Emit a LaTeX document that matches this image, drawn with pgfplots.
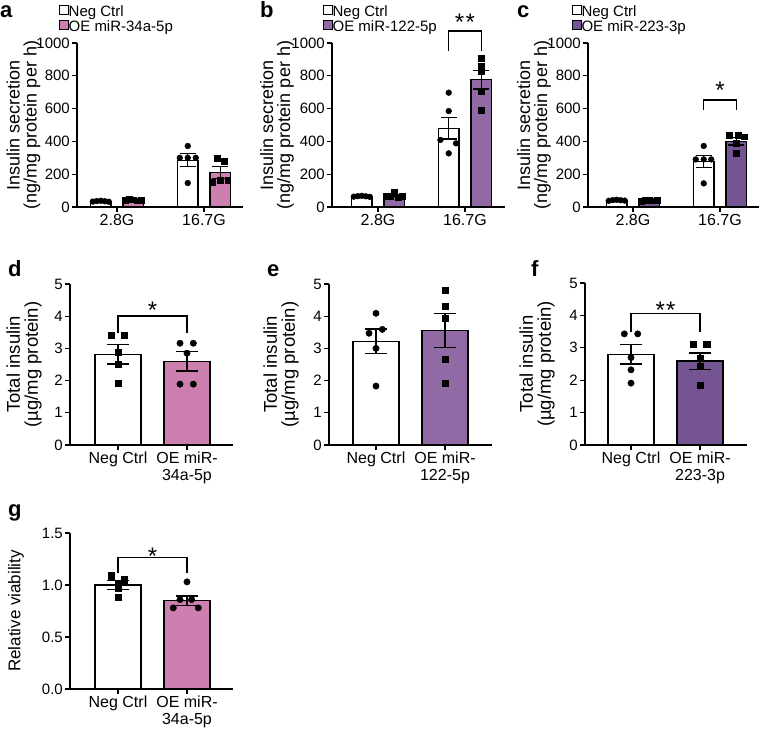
\documentclass[border=0pt]{standalone}
\usepackage{pgfplots}
\pgfplotsset{compat=1.18}
\usepackage{fontspec}
\setmainfont{Liberation Sans}
\definecolor{pinkc}{RGB}{205,128,175}
\definecolor{purpb}{RGB}{145,106,165}
\definecolor{purpc}{RGB}{117,84,148}
\newcommand{\fs}[2]{\fontsize{#1}{#2}\selectfont}
\tikzset{sigstar/.style={anchor=base, inner sep=0pt, font=\fs{24}{24}}}
\pgfplotsset{
  panel/.style={
    scale only axis, anchor=south west, clip=false,
    axis lines=left, axis line style={line width=1.3pt,-},
    tick align=outside, major tick length=5pt,
    tick style={line width=1.3pt, black},
    ymin=0, xtick={0,1},
    /pgf/number format/assume math mode=true,
    /pgf/number format/1000 sep={},
    yticklabel style={font=\fs{15}{17}, inner sep=2pt},
    xticklabel style={font=\fs{16}{17}, align=center, inner sep=2pt},
    ylabel style={font=\fs{18}{17}, align=center, anchor=center},
    legend style={draw=none, fill=none, inner sep=0pt, font=\fs{15}{15},
      legend cell align=left, row sep=0.5pt,
      nodes={inner sep=0pt, text height=9pt, text depth=3pt}, anchor=north west},
  },
  row1/.style={panel, ymax=1000, ytick={0,200,...,1000}, xticklabels={2.8G,16.7G}, height=164pt},
  row2/.style={panel, ymax=5, ytick={0,...,5}, height=161pt, width=163pt,
     ylabel style={font=\fs{18.5}{18}}},
  ebars/.style={error bars/y dir=both, error bars/y explicit,
     error bars/error bar style={line width=1.3pt,black},
     error bars/error mark options={rotate=90, line width=1.3pt, black, mark size=#1}},
  barA/.style={ybar, bar width=0.236, bar shift=0pt, draw=black, line width=1.2pt, forget plot, ebars=8pt},
  barB/.style={ybar, bar width=0.667, bar shift=0pt, draw=black, line width=1.2pt, forget plot, ebars=11pt},
  dotsA/.style={only marks, mark=*, mark size=2.9pt, black, forget plot},
  sqA/.style={only marks, mark=square*, mark size=2.9pt, black, forget plot},
  dotsB/.style={only marks, mark=*, mark size=3.2pt, black, forget plot},
  sqB/.style={only marks, mark=square*, mark size=3.1pt, black, forget plot},
  brk/.style={black, line width=1.3pt, forget plot, mark=none},
}
\newcommand{\legsq}[1]{\addlegendimage{legend image code/.code={\draw[draw=black, fill=#1, line width=0.9pt] (0pt,-0.5pt) rectangle (8.5pt,8pt);}}}
\begin{document}
\begin{tikzpicture}
\useasboundingbox (0pt,0pt) rectangle (760pt,733pt);
% ---------- a ----------
\begin{axis}[row1, at={(77pt,526pt)}, width=166pt, xmin=-0.460, xmax=1.448,
  ylabel={Insulin secretion\\(ng/mg protein per h)},
  ylabel style={at={(axis description cs:-0.322,0.5)}},
  legend style={at={(axis description cs:-0.108,1.232)}}]
\legsq{white}\addlegendentry{Neg Ctrl}
\legsq{pinkc}\addlegendentry{OE miR-34a-5p}
\addplot[barA, fill=white] coordinates {(-0.187,35) +- (0,3) (0.813,285) +- (0,40)};
\addplot[barA, fill=pinkc] coordinates {(0.187,42) +- (0,4) (1.187,210) +- (0,35)};
\addplot[dotsA] coordinates {(-0.279,33) (-0.233,36) (-0.187,38) (-0.141,35) (-0.095,32) (0.813,372) (0.721,300) (0.813,300) (0.905,300) (0.813,146)};
\addplot[sqA] coordinates {(0.095,40) (0.141,48) (0.187,45) (0.233,38) (0.279,40) (1.149,297) (1.236,280) (1.098,149) (1.184,165) (1.271,165)};
\end{axis}
% ---------- b ----------
\begin{axis}[row1, at={(332pt,526pt)}, width=173pt, xmin=-0.529, xmax=1.460,
  ylabel={Insulin secretion\\(ng/mg protein per h)},
  ylabel style={at={(axis description cs:-0.318,0.5)}},
  legend style={at={(axis description cs:-0.052,1.232)}}]
\legsq{white}\addlegendentry{Neg Ctrl}
\legsq{purpb}\addlegendentry{OE miR-122-5p}
\addplot[barA, fill=white] coordinates {(-0.187,65) +- (0,3) (0.813,481) +- (0,66)};
\addplot[barA, fill=purpb] coordinates {(0.187,71) +- (0,6) (1.187,777) +- (0,57)};
\addplot[dotsA] coordinates {(-0.279,63) (-0.233,66) (-0.187,68) (-0.141,65) (-0.095,62) (0.813,697) (0.813,585) (0.718,409) (0.897,388) (0.813,327)};
\addplot[sqA] coordinates {(0.095,66) (0.141,68) (0.187,93) (0.233,62) (0.279,65) (1.187,905) (1.187,860) (1.187,825) (1.187,705) (1.187,590)};
\addplot[brk] coordinates {(0.813,951) (0.813,1073) (1.187,1073) (1.187,951)};
\node[sigstar] at (axis cs:1,1075) {*\hspace{1.5pt}*};
\end{axis}
% ---------- c ----------
\begin{axis}[row1, at={(588pt,526pt)}, width=171pt, xmin=-0.517, xmax=1.448,
  ylabel={Insulin secretion\\(ng/mg protein per h)},
  ylabel style={at={(axis description cs:-0.316,0.5)}},
  legend style={at={(axis description cs:-0.094,1.232)}}]
\legsq{white}\addlegendentry{Neg Ctrl}
\legsq{purpc}\addlegendentry{OE miR-223-3p}
\addplot[barA, fill=white] coordinates {(-0.187,41) +- (0,2) (0.813,277) +- (0,35)};
\addplot[barA, fill=purpc] coordinates {(0.187,39) +- (0,2) (1.187,400) +- (0,22)};
\addplot[dotsA] coordinates {(-0.279,38) (-0.233,42) (-0.187,44) (-0.141,41) (-0.095,39) (0.813,372) (0.721,290) (0.813,290) (0.899,290) (0.813,144)};
\addplot[sqA] coordinates {(0.095,36) (0.141,40) (0.187,42) (0.233,38) (0.279,39) (1.103,439) (1.207,439) (1.282,429) (1.187,388) (1.187,327)};
\addplot[brk] coordinates {(0.813,591) (0.813,652) (1.187,652) (1.187,591)};
\node[sigstar] at (axis cs:1,660) {*};
\end{axis}
% ---------- d ----------
\begin{axis}[row2, at={(70pt,288pt)}, xmin=-0.696, xmax=1.667,
  xticklabels={Neg Ctrl,{OE miR-\\34a-5p}},
  ylabel={Total insulin\\(µg/mg protein)},
  ylabel style={at={(axis description cs:-0.282,0.5)}}]
\addplot[barB, fill=white] coordinates {(0,2.82) +- (0,0.30)};
\addplot[barB, fill=pinkc] coordinates {(1,2.60) +- (0,0.30)};
\addplot[sqB] coordinates {(-0.101,3.42) (0.087,3.42) (0,2.87) (0,2.51) (0,1.92)};
\addplot[dotsB] coordinates {(0.899,3.16) (1.092,3.16) (1,2.85) (0.899,1.89) (1.092,1.89)};
\addplot[brk] coordinates {(0,3.47) (0,4.01) (1,4.01) (1,3.47)};
\node[sigstar] at (axis cs:0.5,3.93) {*};
\end{axis}
% ---------- e ----------
\begin{axis}[row2, at={(329pt,288pt)}, xmin=-0.681, xmax=1.681,
  xticklabels={Neg Ctrl,{OE miR-\\122-5p}},
  ylabel={Total insulin\\(µg/mg protein)},
  ylabel style={at={(axis description cs:-0.294,0.5)}}]
\addplot[barB, fill=white] coordinates {(0,3.22) +- (0,0.38)};
\addplot[barB, fill=purpb] coordinates {(1,3.56) +- (0,0.53)};
\addplot[dotsB] coordinates {(0,4.09) (-0.101,3.47) (0.092,3.59) (0,3.00) (0,1.83)};
\addplot[sqB] coordinates {(1,4.81) (1,4.32) (1,3.93) (1,2.66) (1,1.93)};
\end{axis}
% ---------- f ----------
\begin{axis}[row2, at={(585pt,288pt)}, height=162pt, width=162pt, xmin=-0.667, xmax=1.681,
  xticklabels={Neg Ctrl,{OE miR-\\223-3p}},
  ylabel={Total insulin\\(µg/mg protein)},
  ylabel style={at={(axis description cs:-0.296,0.5)}}]
\addplot[barB, fill=white] coordinates {(0,2.80) +- (0,0.30)};
\addplot[barB, fill=purpc] coordinates {(1,2.59) +- (0,0.25)};
\addplot[dotsB] coordinates {(-0.097,3.43) (0.097,3.43) (0,2.70) (0,2.32) (0,1.91)};
\addplot[sqB] coordinates {(0.903,3.10) (1.097,3.10) (1,2.68) (1,2.42) (1,1.84)};
\addplot[brk] coordinates {(0,3.49) (0,4.05) (1,4.05) (1,3.49)};
\node[sigstar] at (axis cs:0.5,3.90) {*\hspace{1pt}*};
\end{axis}
% ---------- g ----------
\begin{axis}[panel, at={(70pt,44pt)}, width=163pt, height=156pt, xmin=-0.696, xmax=1.667,
  ymax=1.5, ytick={0,0.5,1,1.5},
  yticklabel style={/pgf/number format/.cd, fixed, fixed zerofill, precision=1},
  xticklabels={Neg Ctrl,{OE miR-\\34a-5p}},
  ylabel={Relative viability},
  ylabel style={font=\fs{17}{17}, at={(axis description cs:-0.331,0.5)}}]
\addplot[barB, fill=white] coordinates {(0,1.00) +- (0,0.04)};
\addplot[barB, fill=pinkc] coordinates {(1,0.85) +- (0,0.045)};
\addplot[sqB] coordinates {(-0.101,1.09) (0.087,1.05) (0,1.02) (0,0.97) (0,0.88)};
\addplot[dotsB] coordinates {(1,1.03) (0.899,0.86) (1.068,0.86) (0.801,0.78) (1.164,0.78)};
\addplot[brk] coordinates {(0,1.118) (0,1.266) (1,1.266) (1,1.118)};
\node[sigstar] at (axis cs:0.5,1.197) {*};
\end{axis}
% ---------- panel letters ----------
\node[anchor=base west, inner sep=0pt, font=\bfseries\fs{22}{22}] at (0pt,715pt) {a};
\node[anchor=base west, inner sep=0pt, font=\bfseries\fs{22}{22}] at (260pt,715pt) {b};
\node[anchor=base west, inner sep=0pt, font=\bfseries\fs{22}{22}] at (517pt,715pt) {c};
\node[anchor=base west, inner sep=0pt, font=\bfseries\fs{22}{22}] at (8pt,456pt) {d};
\node[anchor=base west, inner sep=0pt, font=\bfseries\fs{22}{22}] at (267pt,456pt) {e};
\node[anchor=base west, inner sep=0pt, font=\bfseries\fs{22}{22}] at (531pt,456pt) {f};
\node[anchor=base west, inner sep=0pt, font=\bfseries\fs{22}{22}] at (8pt,216pt) {g};
\end{tikzpicture}
\end{document}
